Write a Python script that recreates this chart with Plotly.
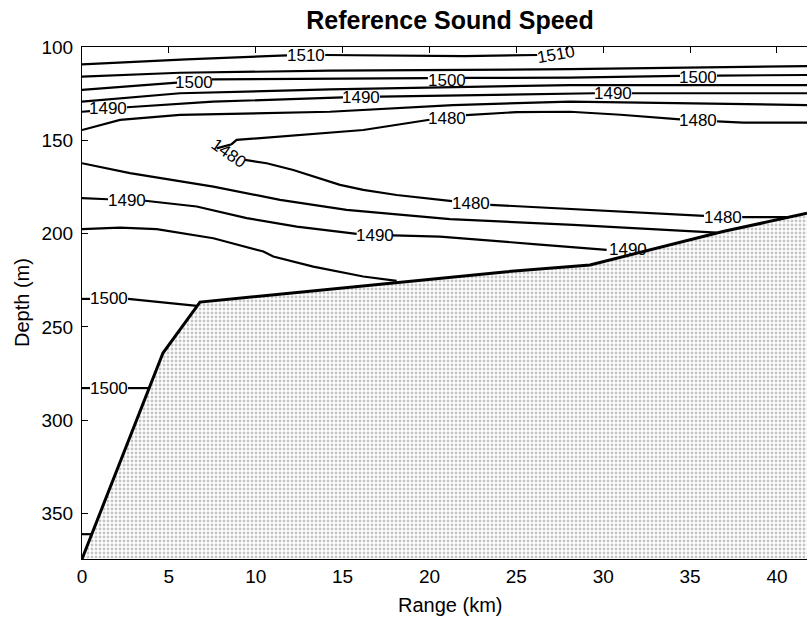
import plotly.graph_objects as go

# ---------------- data (range in km, depth in m) ----------------
X_TICKS = [0, 5, 10, 15, 20, 25, 30, 35, 40]
Y_TICKS = [100, 150, 200, 250, 300, 350]
X_MAX = 41.73
Y_MIN, Y_MAX = 100, 374.4

SEAFLOOR_X = [0, 4.31, 4.66, 6.79, 18.30, 20.60, 24.46, 29.24, 32.12, 36.89, 41.73]
SEAFLOOR_Y = [374.4, 271.5, 264.0, 236.7, 225.9, 224.0, 220.4, 216.8, 210.2, 198.9, 189.1]

# contour polylines (None = break where a label sits)
C1_X = [0, 6.0, 11.8, None, 14.0, 18.3, 22.0, 26.2, None, 27.85, 27.95]
C1_Y = [109.3, 106.6, 104.5, None, 104.3, 104.8, 104.9, 104.3, None, 101.6, 100.0]
C2_X = [0, 5.64, 14.27, 28.09, 41.73]
C2_Y = [115.9, 113.8, 112.7, 111.9, 110.2]
C3_X = [0, 2.8, 5.47, None, 7.48, 14.27, 19.91, None, 22.04, 28.09, 34.42, None, 36.55, 41.73]
C3_Y = [123.0, 121.0, 119.1, None, 117.4, 116.8, 116.7, None, 116.6, 116.4, 115.5, None, 115.3, 115.0]
C4_X = [0, 5.64, 14.27, 28.09, 41.73]
C4_Y = [129.3, 124.8, 122.7, 120.4, 120.4]
C5_X = [0, 0.46, None, 2.59, 7.54, 15.02, None, 17.15, 23.0, 29.52, None, 31.65, 41.73]
C5_Y = [134.7, 134.4, None, 132.3, 129.3, 127.0, None, 126.6, 125.7, 124.8, None, 124.8, 124.8]
C6_X = [0, 2.19, 5.64, 14.27, 21.35, 28.09, 35.17, 41.73]
C6_Y = [144.5, 139.1, 136.4, 134.7, 131.1, 129.3, 130.2, 131.1]
C7_X = [7.75, 8.61, 8.90, 11.40, 14.0, 16.19, 20.0, None, 22.1, 25.0, 28.09, 31.0, 34.42, None,
        36.55, 38.06, 41.73, None,
        9.38, 10.63, 12.16, 13.31, 14.27, 14.85, 16.19, 18.11, 21.3, None,
        23.5, 29.6, 35.8, None, 38.0, 40.55]
C7_Y = [154.3, 152.1, 149.8, 148.0, 146.2, 144.5, 139.0, None, 136.5, 134.9, 134.7, 136.3, 138.8, None,
        139.9, 140.5, 140.5, None,
        160.5, 162.3, 165.9, 169.5, 172.1, 173.9, 176.6, 179.3, 182.6, None,
        184.6, 187.6, 190.5, None, 191.2, 191.2]
C8_X = [0, 2.76, 7.56, 11.40, 15.23, 21.18, 28.28, 36.53]
C8_Y = [162.3, 167.6, 174.8, 181.9, 187.3, 192.3, 195.3, 199.5]
C9_X = [0, 1.50, None, 3.63, 6.60, 9.48, 12.36, 15.81, None, 17.90, 20.60, 26.0, 30.20]
C9_Y = [181.0, 181.6, None, 182.4, 185.5, 191.7, 196.3, 200.2, None, 201.0, 201.6, 205.6, 208.7]
C10_X = [0, 2.19, 4.30, 7.56, 10.44, 11.01, 13.31, 16.19, 18.11]
C10_Y = [197.6, 196.8, 197.6, 202.5, 209.6, 212.3, 217.7, 223.0, 225.3]
C11_X = [0, 0.46, None, 2.65, 4.5, 6.62]
C11_Y = [235.0, 235.0, None, 235.0, 236.6, 238.7]
C12_X = [0, 0.46, None, 2.65, 3.8]
C12_Y = [282.8, 282.8, None, 282.8, 282.8]
C13_X = [0, 0.55]
C13_Y = [361.1, 361.1]

CONTOURS = [(C1_X, C1_Y), (C2_X, C2_Y), (C3_X, C3_Y), (C4_X, C4_Y), (C5_X, C5_Y),
            (C6_X, C6_Y), (C7_X, C7_Y), (C8_X, C8_Y), (C9_X, C9_Y), (C10_X, C10_Y),
            (C11_X, C11_Y), (C12_X, C12_Y), (C13_X, C13_Y)]

LBL_TEXT = ["1510", "1510", "1500", "1500", "1500", "1490", "1490", "1490",
            "1480", "1480", "1480", "1480", "1480", "1490", "1490", "1490", "1500", "1500"]
LBL_X = [12.89, 27.31, 6.47, 20.98, 35.48, 1.52, 16.08, 30.58,
         21.03, 35.48, 8.46, 22.41, 36.92, 2.57, 16.86, 31.45, 1.55, 1.55]
LBL_Y = [104.3, 104.0, 118.9, 118.0, 116.2, 133.2, 127.1, 125.0,
         138.2, 139.6, 156.9, 184.1, 191.2, 182.5, 201.2, 208.6, 235.0, 283.2]
LBL_ANGLE = [0, -10, 0, 0, 0, 0, 0, 0, 0, 0, 35, 0, 0, 0, 0, 0, 0, 0]

FONT = "Liberation Sans, Arial, Helvetica, sans-serif"

fig = go.Figure()

# seafloor fill (stippled)
fig.add_trace(go.Scatter(
    x=SEAFLOOR_X + [SEAFLOOR_X[-1], SEAFLOOR_X[0]],
    y=SEAFLOOR_Y + [Y_MAX, Y_MAX],
    mode="lines", fill="toself", line=dict(width=0, color="black"),
    fillcolor="white",
    fillpattern=dict(shape=".", fgcolor="#8c8c8c", bgcolor="white", size=4, solidity=0.4),
    hoverinfo="skip", showlegend=False))

for cx, cy in CONTOURS:
    fig.add_trace(go.Scatter(x=cx, y=cy, mode="lines",
                             line=dict(color="black", width=2.2),
                             connectgaps=False, hoverinfo="skip", showlegend=False))

fig.add_trace(go.Scatter(x=SEAFLOOR_X, y=SEAFLOOR_Y, mode="lines",
                         line=dict(color="black", width=3),
                         hoverinfo="skip", showlegend=False))

# dummy trace for the top tick axis
fig.add_trace(go.Scatter(x=[None], y=[None], xaxis="x2", showlegend=False, hoverinfo="skip"))

for t, x, y, a in zip(LBL_TEXT, LBL_X, LBL_Y, LBL_ANGLE):
    fig.add_annotation(x=x, y=y, text=t, showarrow=False, textangle=a,
                       font=dict(family=FONT, size=17, color="black"),
                       xanchor="center", yanchor="middle")

fig.add_annotation(text="Range (km)", xref="paper", yref="paper",
                   x=(450 - 82) / 725, y=0, yshift=-33, showarrow=False,
                   xanchor="center", yanchor="top",
                   font=dict(family=FONT, size=20, color="black"))
fig.add_annotation(text="Depth (m)", xref="paper", yref="paper",
                   x=(22 - 82) / 725, y=0.5, showarrow=False, textangle=-90,
                   xanchor="center", yanchor="middle",
                   font=dict(family=FONT, size=20, color="black"))

fig.update_layout(
    width=807, height=620,
    margin=dict(l=82, r=0, t=47, b=61, autoexpand=False),
    paper_bgcolor="white", plot_bgcolor="white",
    showlegend=False,
    font=dict(family=FONT, size=19, color="black"),
    title=dict(text="<b>Reference Sound Speed</b>", x=450 / 807, xref="container",
               y=1 - 20 / 620, yref="container", xanchor="center", yanchor="middle",
               font=dict(family=FONT, size=25, color="black")),
    xaxis=dict(range=[0, X_MAX], tickvals=X_TICKS, ticks="", showline=True,
               linecolor="black", linewidth=1, mirror=True, showgrid=False,
               zeroline=False, automargin=False,
               tickfont=dict(family=FONT, size=19, color="black")),
    xaxis2=dict(range=[0, X_MAX], overlaying="x", side="top", anchor="y",
                tickvals=X_TICKS, ticks="inside", ticklen=6, tickcolor="black",
                showticklabels=False, showline=False, showgrid=False, zeroline=False),
    yaxis=dict(range=[Y_MAX, Y_MIN], tickvals=Y_TICKS, ticks="inside", ticklen=6,
               tickcolor="black", showline=True, linecolor="black", linewidth=1,
               mirror=False, showgrid=False, zeroline=False, automargin=False,
               ticklabelstandoff=4,
               tickfont=dict(family=FONT, size=19, color="black")),
)

fig.write_html("out.html", config={"displayModeBar": False})
